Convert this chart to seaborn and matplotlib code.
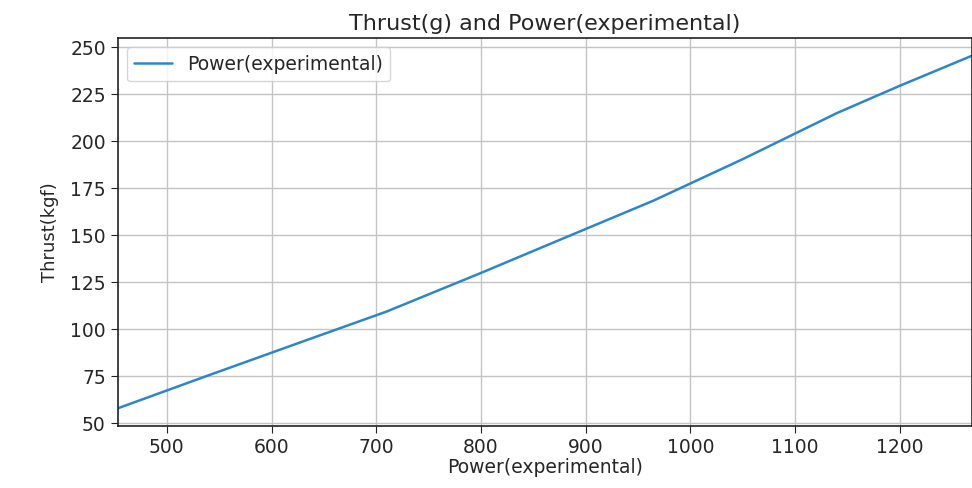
import pandas as pd
import seaborn as sns
import matplotlib.pyplot as plt

# values
power = [453, 535, 620, 710, 800, 880, 965, 1050, 1140, 1200, 1269]
thrust = [58, 74.6, 91.6, 109.5, 130, 148.7, 168.5, 190.5, 215, 229.5, 245.5]

df = pd.DataFrame({"power": power, "thrust": thrust})

sns.set_style("ticks")
plt.rcParams['font.family'] = ['DejaVu Sans']

fig = plt.figure(figsize=(9.72, 4.88), dpi=100)
ax = fig.add_axes([0.121, 0.127, 0.879, 0.795])

sns.lineplot(data=df, x="power", y="thrust", ax=ax, color="#2e86c8",
             linewidth=1.8, label="Power(experimental)")

ax.set_xlim(min(power), max(power))
ax.grid(True, color="#c4c4c4", linewidth=1.0)
for s in ax.spines.values():
    s.set_color("#222222")
    s.set_linewidth(1.2)
ax.tick_params(labelsize=13.5, length=5, color="#222222")

ax.set_title("Thrust(g) and Power(experimental)", fontsize=16)
ax.set_xlabel("Power(experimental)", fontsize=13.5, labelpad=1)
ax.set_ylabel("Thrust(kgf)", fontsize=13, labelpad=8)
ax.legend(loc="upper left", fontsize=13.5)

plt.savefig("out.png", dpi=100)
